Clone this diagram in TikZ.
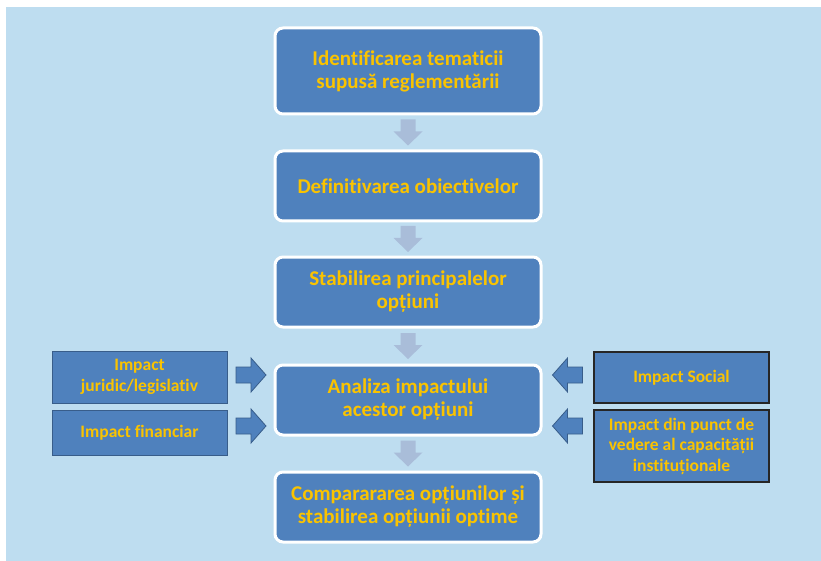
\documentclass[tikz,border=0pt]{standalone}
\usepackage{fontspec}
\setmainfont{Carlito}[Ligatures=CommonOff]
\usetikzlibrary{calc,positioning}
\definecolor{bgblue}{RGB}{190,221,240}
\definecolor{boxblue}{RGB}{79,129,189}
\definecolor{boxedge}{RGB}{56,93,138}
\definecolor{textgold}{RGB}{250,195,0}
\definecolor{paleblue}{RGB}{169,189,217}
\tikzset{
  stepbox/.style={draw=white, line width=3pt, fill=boxblue, rounded corners=8pt,
    minimum width=266pt, minimum height=70pt, outer sep=0pt, inner sep=2pt,
    align=center, text=textgold, font=\bfseries\fontsize{21}{23}\selectfont},
  impleft/.style={draw=boxedge, line width=1pt, fill=boxblue, minimum width=175pt,
    outer sep=0pt, inner sep=2pt, align=center, text=textgold,
    font=\bfseries\fontsize{17.5}{20.5}\selectfont},
  impright/.style={impleft, draw=black!85, line width=1.6pt},
  downarrow/.pic={\fill[paleblue] (-7.5,-13) -- (7.5,-13) -- (7.5,-1) -- (14.5,-1)
    -- (0,13) -- (-14.5,-1) -- (-7.5,-1) -- cycle;},
  rightarrow/.pic={\filldraw[fill=boxblue, draw=boxedge, line width=0.8pt]
    (-15,-8) -- (0,-8) -- (0,-17) -- (15,0) -- (0,17) -- (0,8) -- (-15,8) -- cycle;},
  leftarrow/.pic={\filldraw[fill=boxblue, draw=boxedge, line width=0.8pt]
    (15,-8) -- (0,-8) -- (0,-17) -- (-15,0) -- (0,17) -- (0,8) -- (15,8) -- cycle;}
}
\begin{document}
\begin{tikzpicture}[x=1pt,y=-1pt]
  \useasboundingbox (0,0) rectangle (821,561);
  \fill[bgblue] (6,7) rectangle (821,561);

  % main column
  \node[stepbox, minimum height=86pt] (s_1) at (408,71) {Identificarea tematicii\\supusă reglementării};
  \node[stepbox] (s_2) [below=37pt of s_1] {Definitivarea obiectivelor};
  \node[stepbox] (s_3) [below=36pt of s_2] {Stabilirea principalelor\\opțiuni};
  \node[stepbox] (s_4) [below=38pt of s_3] {Analiza impactului\\acestor opțiuni};
  \node[stepbox] (s_5) [below=37pt of s_4] {Comparararea opțiunilor și\\stabilirea opțiunii optime};

  % impact boxes
  \node[impleft, minimum height=52pt, anchor=north east] (i_j) at ([xshift=-48pt,yshift=14pt]s_4.north west) {Impact\\juridic/legislativ};
  \node[impleft, minimum height=45pt] (i_f) [below=7pt of i_j] {Impact financiar};
  \node[impright, minimum height=51pt, anchor=north west] (i_s) at ([xshift=53pt,yshift=13pt]s_4.north east) {Impact Social};
  \node[impright, minimum height=72pt] (i_c) [below=7pt of i_s] {Impact din punct de\\vedere al capacității\\instituționale};

  % arrows
  \pic at ($(s_1.south)!.5!(s_2.north)$) {downarrow};
  \pic at ($(s_2.south)!.5!(s_3.north)$) {downarrow};
  \pic at ($(s_3.south)!.5!(s_4.north)$) {downarrow};
  \pic at ($(s_4.south)!.5!(s_5.north)$) {downarrow};
  \pic at ($(i_j.east |- s_4.center)!.5!(s_4.west) + (0,-25)$) {rightarrow};
  \pic at ($(i_j.east |- s_4.center)!.5!(s_4.west) + (0,26)$) {rightarrow};
  \pic at ($(s_4.east)!.5!(s_4.east -| i_s.west) + (0,-25)$) {leftarrow};
  \pic at ($(s_4.east)!.5!(s_4.east -| i_s.west) + (0,26)$) {leftarrow};
\end{tikzpicture}
\end{document}
